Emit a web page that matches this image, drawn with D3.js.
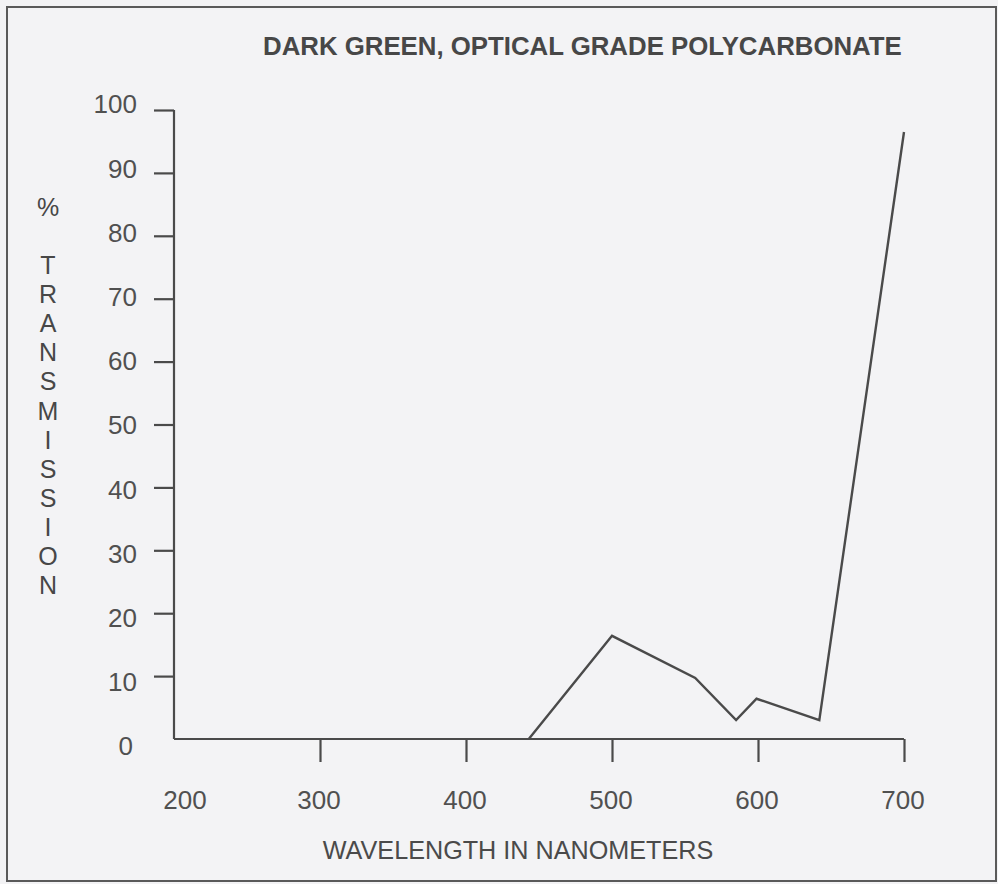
<!DOCTYPE html>
<html>
<head>
<meta charset="utf-8">
<script src="https://cdn.jsdelivr.net/npm/d3@7"></script>
<style>
  html, body { margin: 0; padding: 0; background: #f3f3f5; }
  svg { display: block; font-family: "Liberation Sans", Arial, sans-serif; }
</style>
</head>
<body>
<svg id="chart" width="998" height="884"></svg>
<script>
// transmission curve
const wavelengths = [443, 500, 557, 585, 599, 642, 700];
const transmission = [0, 16.4, 9.7, 3.0, 6.4, 3.0, 96.5];
const xTicks = [200, 300, 400, 500, 600, 700];
const yTicks = [0, 10, 20, 30, 40, 50, 60, 70, 80, 90, 100];
const title = "DARK GREEN, OPTICAL GRADE POLYCARBONATE";
const xTitle = "WAVELENGTH IN NANOMETERS";
const yTitle = ["%", "T", "R", "A", "N", "S", "M", "I", "S", "S", "I", "O", "N"];

const ink = "#4a4a4a";
const svg = d3.select("#chart");

// frame around the whole figure
svg.append("rect")
    .attr("x", 7).attr("y", 7)
    .attr("width", 989).attr("height", 874)
    .attr("fill", "#f3f3f5")
    .attr("stroke", "#5a5a5a")
    .attr("stroke-width", 2);

const x = d3.scaleLinear().domain([200, 700]).range([174, 904]);
const y = d3.scaleLinear().domain([0, 100]).range([739, 110]);
// the scanned labels drift a bit from their ticks
const yLab = d3.scaleLinear().domain([0, 100]).range([746, 104]);

// y axis
const gy = svg.append("g")
    .attr("transform", "translate(" + x(200) + ",0)")
    .call(d3.axisLeft(y).tickValues(yTicks.filter(d => d > 0)).tickSize(20).tickSizeOuter(0).tickFormat(""));
gy.select(".domain").attr("stroke", ink).attr("stroke-width", 2.2).attr("d", "M0," + y(0) + "V" + y(100));
gy.selectAll(".tick line").attr("stroke", ink).attr("stroke-width", 2.2);

svg.append("g").selectAll("text")
    .data(yTicks)
    .enter()
    .append("text")
    .attr("x", d => d === 0 ? 133 : 137)
    .attr("y", d => yLab(d))
    .attr("dy", "0.36em")
    .attr("text-anchor", "end")
    .attr("font-size", 26)
    .attr("fill", "#505050")
    .text(d => d);

// x axis
const gx = svg.append("g")
    .attr("transform", "translate(0," + y(0) + ")")
    .call(d3.axisBottom(x).tickValues(xTicks.filter(d => d > 200)).tickSize(23).tickSizeOuter(0).tickFormat(""));
gx.select(".domain").attr("stroke", ink).attr("stroke-width", 2.2).attr("d", "M" + x(200) + ",0H" + x(700));
gx.selectAll(".tick line").attr("stroke", ink).attr("stroke-width", 2.2);

svg.append("g").selectAll("text")
    .data(xTicks)
    .enter()
    .append("text")
    .attr("x", d => x(d) + (d === 200 ? 11 : -1))
    .attr("y", 800)
    .attr("dy", "0.36em")
    .attr("text-anchor", "middle")
    .attr("font-size", 26)
    .attr("fill", "#505050")
    .text(d => d);

// curve
const line = d3.line()
    .x(d => x(d[0]))
    .y(d => y(d[1]));

svg.append("path")
    .datum(d3.zip(wavelengths, transmission))
    .attr("d", line)
    .attr("fill", "none")
    .attr("stroke", ink)
    .attr("stroke-width", 2.4)
    .attr("stroke-linejoin", "miter");

// titles
svg.append("text")
    .attr("x", 263).attr("y", 55)
    .attr("font-size", 25.8)
    .attr("font-weight", "bold")
    .attr("fill", "#474747")
    .text(title);

svg.append("text")
    .attr("x", 518).attr("y", 850)
    .attr("dy", "0.36em")
    .attr("text-anchor", "middle")
    .attr("font-size", 25.2)
    .attr("fill", "#4a4a4a")
    .text(xTitle);

const yt = svg.append("text")
    .attr("text-anchor", "middle")
    .attr("font-size", 25)
    .attr("fill", "#474747");
yTitle.forEach(function (ch, i) {
    yt.append("tspan")
        .attr("x", 48)
        .attr("y", i === 0 ? 216 : 274 + (i - 1) * 29.1)
        .text(ch);
});
</script>
</body>
</html>
